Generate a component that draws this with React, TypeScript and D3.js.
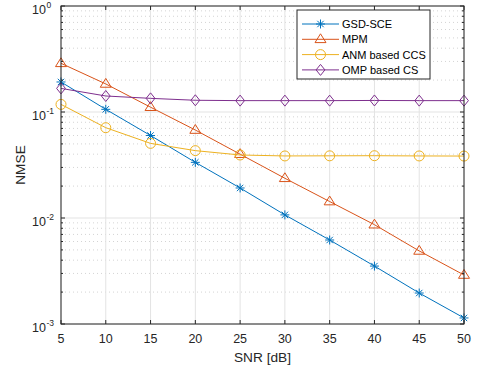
import React from 'react'
import * as d3 from 'd3'

const SNR = [5, 10, 15, 20, 25, 30, 35, 40, 45, 50]
const GSD = [0.192, 0.106, 0.060, 0.0335, 0.0192, 0.0107, 0.0062, 0.00352, 0.00196, 0.00114]
const MPM = [0.288, 0.184, 0.111, 0.0676, 0.040, 0.0237, 0.0143, 0.00865, 0.00489, 0.0029]
const ANM = [0.118, 0.0711, 0.0506, 0.0432, 0.0393, 0.0385, 0.0386, 0.0387, 0.0385, 0.0384]
const OMP = [0.167, 0.1416, 0.1345, 0.129, 0.128, 0.128, 0.128, 0.1285, 0.128, 0.128]
const X_TICKS = [5, 10, 15, 20, 25, 30, 35, 40, 45, 50]
const Y_DECADES = [-3, -2, -1, 0]

const SERIES = [
  { key: 'gsd', label: 'GSD-SCE', color: '#0072BD', marker: 'star', values: GSD },
  { key: 'mpm', label: 'MPM', color: '#D95319', marker: 'tri', values: MPM },
  { key: 'anm', label: 'ANM based CCS', color: '#EDB120', marker: 'circle', values: ANM },
  { key: 'omp', label: 'OMP based CS', color: '#7E2F8E', marker: 'diamond', values: OMP },
]

const FONT = 'Liberation Sans, Arial, sans-serif'
const AX = '#262626'

function Marker({ type, x, y, color }: { type: string; x: number; y: number; color: string }) {
  const s = 4.5
  if (type === 'star') {
    return (
      <g stroke={color} strokeWidth={1}>
        <line x1={x - s} y1={y} x2={x + s} y2={y} />
        <line x1={x} y1={y - s} x2={x} y2={y + s} />
        <line x1={x - 3.2} y1={y - 3.2} x2={x + 3.2} y2={y + 3.2} />
        <line x1={x - 3.2} y1={y + 3.2} x2={x + 3.2} y2={y - 3.2} />
      </g>
    )
  }
  if (type === 'tri') {
    const r = 5.5
    return <path d={`M${x},${y - r}L${x + r},${y + r * 0.6}L${x - r},${y + r * 0.6}Z`} fill="none" stroke={color} strokeWidth={1} />
  }
  if (type === 'circle') {
    return <circle cx={x} cy={y} r={5} fill="none" stroke={color} strokeWidth={1} />
  }
  const r = 5.5
  return <path d={`M${x},${y - r}L${x + r * 0.8},${y}L${x},${y + r}L${x - r * 0.8},${y}Z`} fill="none" stroke={color} strokeWidth={1} />
}

export default function App() {
  const W = 477
  const H = 371
  const pad = { l: 61, r: 13, t: 6, b: 47 }
  const x = d3.scaleLinear().domain([5, 50]).range([pad.l, W - pad.r])
  const y = d3.scaleLog().domain([1e-3, 1]).range([H - pad.b, pad.t])
  const line = d3.line<[number, number]>().x(d => x(d[0])).y(d => y(d[1]))

  const minor: number[] = []
  Y_DECADES.slice(0, -1).forEach(e => {
    for (let k = 2; k <= 9; k++) minor.push(k * Math.pow(10, e))
  })

  const lg = { x: 297, y: 10, w: 133, h: 69 }

  return (
    <svg width={W} height={H} style={{ position: 'absolute', left: 0, top: 0, background: '#fff' }} fontFamily={FONT}>
      <rect x={0} y={0} width={W} height={H} fill="#fff" />
      {/* minor grid */}
      {minor.map(v => (
        <line key={'mg' + v} x1={pad.l} x2={W - pad.r} y1={y(v)} y2={y(v)} stroke="#d4d4d4" strokeWidth={1} strokeDasharray="1,3" />
      ))}
      {/* major grid */}
      {X_TICKS.map(t => (
        <line key={'gx' + t} x1={x(t)} x2={x(t)} y1={pad.t} y2={H - pad.b} stroke="#e3e3e3" strokeWidth={1} />
      ))}
      {Y_DECADES.map(e => (
        <line key={'gy' + e} x1={pad.l} x2={W - pad.r} y1={y(Math.pow(10, e))} y2={y(Math.pow(10, e))} stroke="#e3e3e3" strokeWidth={1} />
      ))}

      {/* series */}
      {SERIES.map(s => (
        <g key={s.key}>
          <path d={line(SNR.map((v, i) => [v, s.values[i]] as [number, number])) || ''} fill="none" stroke={s.color} strokeWidth={1} />
          {SNR.map((v, i) => (
            <Marker key={i} type={s.marker} x={x(v)} y={y(s.values[i])} color={s.color} />
          ))}
        </g>
      ))}

      {/* axes box */}
      <rect x={pad.l} y={pad.t} width={W - pad.r - pad.l} height={H - pad.b - pad.t} fill="none" stroke={AX} strokeWidth={1} />
      {X_TICKS.map(t => (
        <g key={'xt' + t}>
          <line x1={x(t)} x2={x(t)} y1={H - pad.b} y2={H - pad.b - 4} stroke={AX} />
          <line x1={x(t)} x2={x(t)} y1={pad.t} y2={pad.t + 4} stroke={AX} />
          <text x={x(t)} y={H - pad.b + 19} textAnchor="middle" fontSize={12.5} fill={AX}>{t}</text>
        </g>
      ))}
      {Y_DECADES.map(e => {
        const ty = y(Math.pow(10, e))
        return (
          <g key={'yt' + e}>
            <line x1={pad.l} x2={pad.l + 4} y1={ty} y2={ty} stroke={AX} />
            <line x1={W - pad.r} x2={W - pad.r - 4} y1={ty} y2={ty} stroke={AX} />
            <text x={pad.l - 15} y={ty + 7.5} textAnchor="end" fontSize={12.5} fill={AX}>10</text>
            <text x={pad.l - 14.5} y={ty + 1.5} textAnchor="start" fontSize={8.5} fill={AX}>{e}</text>
          </g>
        )
      })}
      {minor.map(v => (
        <g key={'mt' + v}>
          <line x1={pad.l} x2={pad.l + 2} y1={y(v)} y2={y(v)} stroke={AX} />
          <line x1={W - pad.r} x2={W - pad.r - 2} y1={y(v)} y2={y(v)} stroke={AX} />
        </g>
      ))}

      <text x={(pad.l + W - pad.r) / 2} y={H - 9} textAnchor="middle" fontSize={13.7} fill={AX}>SNR [dB]</text>
      <text transform={`translate(25,${(pad.t + H - pad.b) / 2}) rotate(-90)`} textAnchor="middle" fontSize={13.7} fill={AX}>NMSE</text>

      {/* legend */}
      <rect x={lg.x} y={lg.y} width={lg.w} height={lg.h} fill="#fff" stroke={AX} strokeWidth={1} />
      {SERIES.map((s, i) => {
        const ly = lg.y + 14 + i * 15.3
        return (
          <g key={'lg' + s.key}>
            <line x1={lg.x + 5} x2={lg.x + 42} y1={ly} y2={ly} stroke={s.color} strokeWidth={1} />
            <Marker type={s.marker} x={lg.x + 23.5} y={ly} color={s.color} />
            <text x={lg.x + 45} y={ly + 4} fontSize={11} fill="#000">{s.label}</text>
          </g>
        )
      })}
    </svg>
  )
}
